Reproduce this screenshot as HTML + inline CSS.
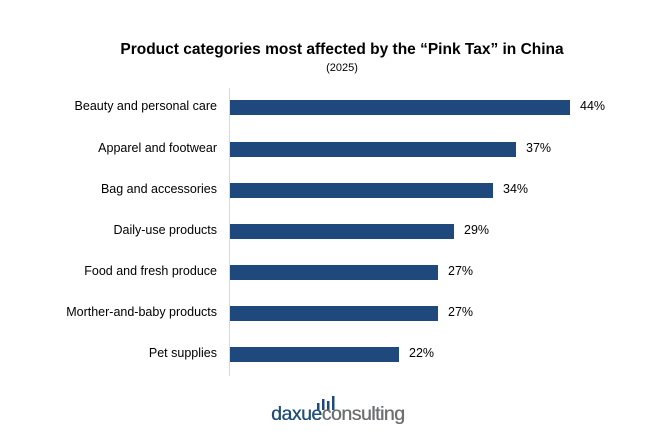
<!DOCTYPE html>
<html><head><meta charset="utf-8"><style>
html,body{margin:0;padding:0;background:#fff;}
body{width:667px;height:443px;position:relative;overflow:hidden;font-family:"Liberation Sans",Arial,sans-serif;color:#000;}
.t{position:absolute;white-space:nowrap;}
.title{left:0;width:684px;text-align:center;top:41px;font-size:15.5px;font-weight:bold;}
.sub{left:0;width:684px;text-align:center;top:62px;font-size:11px;}
.lab{right:450px;font-size:12.5px;text-align:right;}
.bar{position:absolute;left:230px;height:15px;background:#1f497d;}
.val{font-size:12.5px;}
.axis{position:absolute;left:229px;top:88px;width:1px;height:288px;background:#d9d9d9;}
</style></head><body>
<div class="t title">Product categories most affected by the “Pink Tax” in China</div>
<div class="t sub">(2025)</div>
<div class="axis"></div>

<div class="t lab" style="top:99px">Beauty and personal care</div>
<div class="bar" style="top:100px;width:340px"></div>
<div class="t val" style="left:580px;top:99px">44%</div>

<div class="t lab" style="top:141px">Apparel and footwear</div>
<div class="bar" style="top:142px;width:286px"></div>
<div class="t val" style="left:526px;top:141px">37%</div>

<div class="t lab" style="top:182px">Bag and accessories</div>
<div class="bar" style="top:183px;width:263px"></div>
<div class="t val" style="left:503px;top:182px">34%</div>

<div class="t lab" style="top:223px">Daily-use products</div>
<div class="bar" style="top:224px;width:224px"></div>
<div class="t val" style="left:464px;top:223px">29%</div>

<div class="t lab" style="top:264px">Food and fresh produce</div>
<div class="bar" style="top:265px;width:208px"></div>
<div class="t val" style="left:448px;top:264px">27%</div>

<div class="t lab" style="top:305px">Morther-and-baby products</div>
<div class="bar" style="top:306px;width:208px"></div>
<div class="t val" style="left:448px;top:305px">27%</div>

<div class="t lab" style="top:346px">Pet supplies</div>
<div class="bar" style="top:347px;width:169px"></div>
<div class="t val" style="left:409px;top:346px">22%</div>

<svg style="position:absolute;left:317px;top:396px" width="20" height="14">
<rect x="0" y="7" width="2.5" height="7" fill="#1f497d"/>
<rect x="5" y="3" width="2.5" height="11" fill="#1f497d"/>
<rect x="10" y="5" width="2.5" height="9" fill="#1f497d"/>
<rect x="15" y="0" width="2.5" height="14" fill="#1f497d"/>
</svg>
<div class="t" style="left:271px;top:403px;font-size:19.5px;letter-spacing:-0.5px;text-shadow:0.4px 0 0 currentColor;"><span style="color:#1f4e79">daxue</span><span style="color:#6d6e71">consulting</span></div>
</body></html>
